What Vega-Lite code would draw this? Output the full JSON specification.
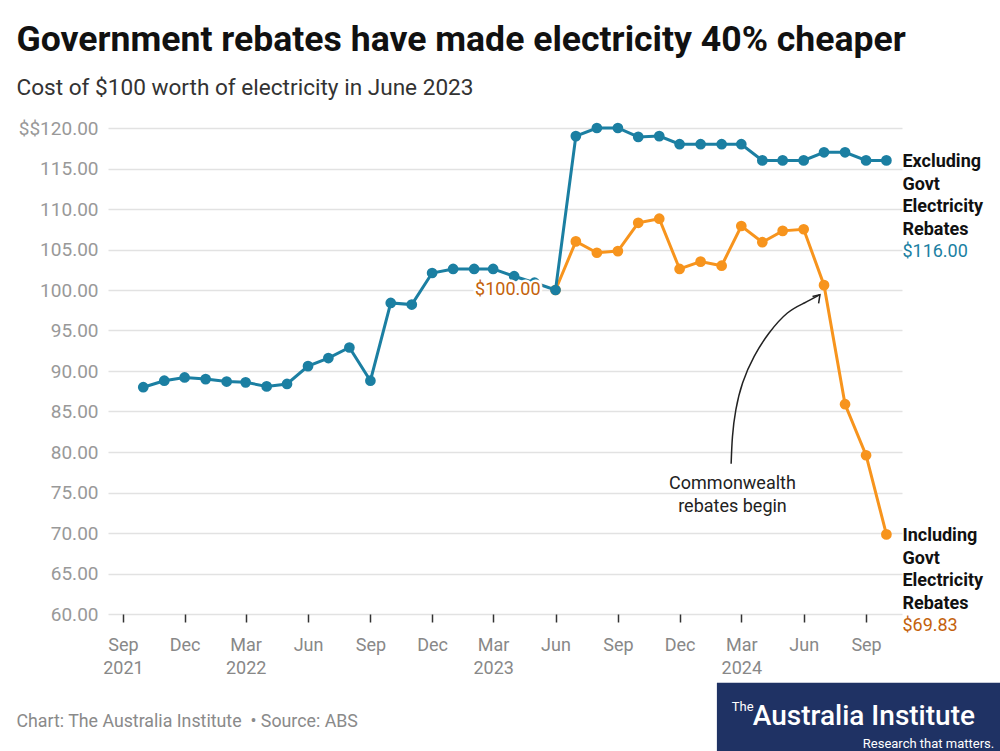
{
  "$schema": "https://vega.github.io/schema/vega-lite/v6.json",
  "autosize": "none",
  "width": 794,
  "height": 486,
  "padding": {"left": 108, "top": 128, "right": 98, "bottom": 137},
  "background": "white",
  "config": {
    "view": {"stroke": null},
    "font": "Roboto",
    "text": {"font": "Roboto"}
  },
  "title": {
    "text": "Government rebates have made electricity 40% cheaper",
    "subtitle": "Cost of $100 worth of electricity in June 2023",
    "anchor": "start",
    "frame": "bounds",
    "font": "Roboto",
    "fontSize": 35.6,
    "fontWeight": "bold",
    "color": "#111111",
    "subtitleFont": "Roboto",
    "subtitleFontSize": 22.6,
    "subtitleColor": "#333333",
    "subtitlePadding": 19,
    "offset": 19
  },
  "datasets": {
    "ex": [
      {"date": "2021-10-01", "value": 88.0},
      {"date": "2021-11-01", "value": 88.8},
      {"date": "2021-12-01", "value": 89.2},
      {"date": "2022-01-01", "value": 89.0},
      {"date": "2022-02-01", "value": 88.7},
      {"date": "2022-03-01", "value": 88.6},
      {"date": "2022-04-01", "value": 88.1},
      {"date": "2022-05-01", "value": 88.4},
      {"date": "2022-06-01", "value": 90.6},
      {"date": "2022-07-01", "value": 91.6},
      {"date": "2022-08-01", "value": 92.9},
      {"date": "2022-09-01", "value": 88.8},
      {"date": "2022-10-01", "value": 98.4},
      {"date": "2022-11-01", "value": 98.2},
      {"date": "2022-12-01", "value": 102.1},
      {"date": "2023-01-01", "value": 102.6},
      {"date": "2023-02-01", "value": 102.6},
      {"date": "2023-03-01", "value": 102.6},
      {"date": "2023-04-01", "value": 101.7},
      {"date": "2023-05-01", "value": 100.9},
      {"date": "2023-06-01", "value": 100.0},
      {"date": "2023-07-01", "value": 119.0},
      {"date": "2023-08-01", "value": 120.0},
      {"date": "2023-09-01", "value": 120.0},
      {"date": "2023-10-01", "value": 118.9},
      {"date": "2023-11-01", "value": 119.0},
      {"date": "2023-12-01", "value": 118.0},
      {"date": "2024-01-01", "value": 118.0},
      {"date": "2024-02-01", "value": 118.0},
      {"date": "2024-03-01", "value": 118.0},
      {"date": "2024-04-01", "value": 116.0},
      {"date": "2024-05-01", "value": 116.0},
      {"date": "2024-06-01", "value": 116.0},
      {"date": "2024-07-01", "value": 117.0},
      {"date": "2024-08-01", "value": 117.0},
      {"date": "2024-09-01", "value": 116.0},
      {"date": "2024-10-01", "value": 116.0}
    ],
    "inc": [
      {"date": "2023-06-01", "value": 100.0},
      {"date": "2023-07-01", "value": 106.0},
      {"date": "2023-08-01", "value": 104.6},
      {"date": "2023-09-01", "value": 104.8},
      {"date": "2023-10-01", "value": 108.3},
      {"date": "2023-11-01", "value": 108.8},
      {"date": "2023-12-01", "value": 102.6},
      {"date": "2024-01-01", "value": 103.5},
      {"date": "2024-02-01", "value": 103.0},
      {"date": "2024-03-01", "value": 107.9},
      {"date": "2024-04-01", "value": 105.9},
      {"date": "2024-05-01", "value": 107.3},
      {"date": "2024-06-01", "value": 107.5},
      {"date": "2024-07-01", "value": 100.6},
      {"date": "2024-08-01", "value": 85.9},
      {"date": "2024-09-01", "value": 79.6},
      {"date": "2024-10-01", "value": 69.83}
    ],
    "curve": [
      {"date": "2024-02-15", "value": 78.56},
      {"date": "2024-02-17", "value": 81.93},
      {"date": "2024-02-22", "value": 85.22},
      {"date": "2024-03-03", "value": 88.56},
      {"date": "2024-03-20", "value": 91.8},
      {"date": "2024-04-11", "value": 94.69},
      {"date": "2024-05-08", "value": 97.16},
      {"date": "2024-06-02", "value": 98.4},
      {"date": "2024-06-25", "value": 99.42}
    ],
    "head": [
      {"ord": 1, "date": "2024-06-14", "value": 99.21},
      {"ord": 2, "date": "2024-06-25", "value": 99.42},
      {"ord": 3, "date": "2024-06-23", "value": 98.36}
    ],
    "ends": [
      {"date": "2024-10-01", "value": 116.0, "label": "Excluding|Govt|Electricity|Rebates", "amount": "$116.00", "series": "ex"},
      {"date": "2024-10-01", "value": 69.83, "label": "Including|Govt|Electricity|Rebates", "amount": "$69.83", "series": "inc"}
    ],
    "base": [
      {"date": "2023-06-01", "value": 100.0, "label": "$100.00"}
    ],
    "note": [
      {"date": "2024-02-17", "value": 76.05, "label": "Commonwealth|rebates begin"}
    ]
  },
  "layer": [
    {
      "data": {"name": "inc"},
      "mark": {"type": "line", "color": "#f7941d", "strokeWidth": 3},
      "encoding": {
        "x": {
          "field": "date", "type": "temporal",
          "scale": {"type": "utc", "domain": [{"year": 2021, "month": 8, "date": 10, "utc": true}, {"year": 2024, "month": 10, "date": 24, "utc": true}]},
          "axis": {
            "title": null,
            "values": [
              {"year": 2021, "month": 9, "date": 1, "utc": true},
              {"year": 2021, "month": 12, "date": 1, "utc": true},
              {"year": 2022, "month": 3, "date": 1, "utc": true},
              {"year": 2022, "month": 6, "date": 1, "utc": true},
              {"year": 2022, "month": 9, "date": 1, "utc": true},
              {"year": 2022, "month": 12, "date": 1, "utc": true},
              {"year": 2023, "month": 3, "date": 1, "utc": true},
              {"year": 2023, "month": 6, "date": 1, "utc": true},
              {"year": 2023, "month": 9, "date": 1, "utc": true},
              {"year": 2023, "month": 12, "date": 1, "utc": true},
              {"year": 2024, "month": 3, "date": 1, "utc": true},
              {"year": 2024, "month": 6, "date": 1, "utc": true},
              {"year": 2024, "month": 9, "date": 1, "utc": true}
            ],
            "labelExpr": "[utcFormat(datum.value, '%b'), (utcmonth(datum.value) == 2 || (utcyear(datum.value) == 2021 && utcmonth(datum.value) == 8)) ? utcFormat(datum.value, '%Y') : '']",
            "domain": false,
            "grid": false,
            "ticks": true,
            "tickColor": "#333333",
            "tickWidth": 1.5,
            "tickSize": 8,
            "labelColor": "#888888",
            "labelFont": "Roboto",
            "labelFontSize": 18,
            "labelLineHeight": 23,
            "labelPadding": 14,
            "labelOverlap": false,
            "labelFlush": false
          }
        },
        "y": {
          "field": "value", "type": "quantitative",
          "scale": {"domain": [60, 120], "nice": false, "zero": false},
          "axis": {
            "title": null,
            "values": [60, 65, 70, 75, 80, 85, 90, 95, 100, 105, 110, 115, 120],
            "labelExpr": "datum.value == 120 ? '$$120.00' : format(datum.value, '.2f')",
            "domain": false,
            "ticks": false,
            "grid": true,
            "gridColor": "#e2e2e2",
            "gridWidth": 1.5,
            "labelColor": "#999999",
            "labelFont": "Roboto",
            "labelFontSize": 19,
            "labelPadding": 10
          }
        }
      }
    },
    {
      "data": {"name": "inc"},
      "mark": {"type": "point", "filled": true, "opacity": 1, "color": "#f7941d", "size": 115},
      "encoding": {
        "x": {"field": "date", "type": "temporal"},
        "y": {"field": "value", "type": "quantitative"}
      }
    },
    {
      "data": {"name": "ex"},
      "mark": {"type": "line", "color": "#1b7fa2", "strokeWidth": 3},
      "encoding": {
        "x": {"field": "date", "type": "temporal"},
        "y": {"field": "value", "type": "quantitative"}
      }
    },
    {
      "data": {"name": "ex"},
      "mark": {"type": "point", "filled": true, "opacity": 1, "color": "#1b7fa2", "size": 115},
      "encoding": {
        "x": {"field": "date", "type": "temporal"},
        "y": {"field": "value", "type": "quantitative"}
      }
    },
    {
      "data": {"name": "base"},
      "mark": {"type": "text", "align": "right", "baseline": "middle", "dx": -15, "fontSize": 18, "stroke": "white", "strokeWidth": 5, "fill": "white"},
      "encoding": {
        "x": {"field": "date", "type": "temporal"},
        "y": {"field": "value", "type": "quantitative"},
        "text": {"field": "label"}
      }
    },
    {
      "data": {"name": "base"},
      "mark": {"type": "text", "align": "right", "baseline": "middle", "dx": -15, "fontSize": 18, "color": "#c4620c"},
      "encoding": {
        "x": {"field": "date", "type": "temporal"},
        "y": {"field": "value", "type": "quantitative"},
        "text": {"field": "label"}
      }
    },
    {
      "data": {"name": "ends"},
      "mark": {"type": "text", "align": "left", "baseline": "middle", "dx": 16, "dy": 1.5, "fontSize": 18, "fontWeight": "bold", "color": "#111111", "lineBreak": "|", "lineHeight": 22.7},
      "encoding": {
        "x": {"field": "date", "type": "temporal"},
        "y": {"field": "value", "type": "quantitative"},
        "text": {"field": "label"}
      }
    },
    {
      "data": {"name": "ends"},
      "mark": {"type": "text", "align": "left", "baseline": "middle", "dx": 16, "dy": 92, "fontSize": 18},
      "encoding": {
        "x": {"field": "date", "type": "temporal"},
        "y": {"field": "value", "type": "quantitative"},
        "text": {"field": "amount"},
        "color": {"field": "series", "type": "nominal", "scale": {"domain": ["ex", "inc"], "range": ["#1b7fa2", "#c4620c"]}, "legend": null}
      }
    },
    {
      "data": {"name": "curve"},
      "mark": {"type": "line", "color": "#222222", "strokeWidth": 1.5, "interpolate": "natural"},
      "encoding": {
        "x": {"field": "date", "type": "temporal"},
        "y": {"field": "value", "type": "quantitative"}
      }
    },
    {
      "data": {"name": "head"},
      "mark": {"type": "line", "color": "#222222", "strokeWidth": 1.5},
      "encoding": {
        "x": {"field": "date", "type": "temporal"},
        "y": {"field": "value", "type": "quantitative"},
        "order": {"field": "ord", "type": "quantitative"}
      }
    },
    {
      "data": {"name": "note"},
      "mark": {"type": "text", "align": "center", "baseline": "middle", "fontSize": 18, "color": "#222222", "lineBreak": "|", "lineHeight": 23},
      "encoding": {
        "x": {"field": "date", "type": "temporal"},
        "y": {"field": "value", "type": "quantitative"},
        "text": {"field": "label"}
      }
    },
    {
      "data": {"values": [{"label": "Chart: The Australia Institute\u00a0 • Source: ABS"}]},
      "mark": {"type": "text", "align": "left", "baseline": "middle", "fontSize": 17.8, "color": "#8a8a8a"},
      "encoding": {
        "x": {"datum": {"year": 2021, "month": 3, "date": 28, "utc": true}, "type": "temporal"},
        "y": {"datum": 46.67, "type": "quantitative"},
        "text": {"field": "label"}
      }
    },
    {
      "data": {"values": [{"name": "logo"}]},
      "mark": {"type": "rect", "color": "#1f3264"},
      "encoding": {
        "x": {"datum": {"year": 2024, "month": 1, "date": 25, "utc": true}, "type": "temporal"},
        "x2": {"datum": {"year": 2025, "month": 3, "date": 25, "utc": true}},
        "y": {"datum": 51.52, "type": "quantitative"},
        "y2": {"datum": 42}
      }
    },
    {
      "data": {"values": [{"label": "The"}]},
      "mark": {"type": "text", "align": "left", "baseline": "middle", "fontSize": 13, "color": "white", "font": "Roboto"},
      "encoding": {
        "x": {"datum": {"year": 2024, "month": 2, "date": 16, "utc": true}, "type": "temporal"},
        "y": {"datum": 48.56, "type": "quantitative"},
        "text": {"field": "label"}
      }
    },
    {
      "data": {"values": [{"label": "Australia Institute"}]},
      "mark": {"type": "text", "align": "left", "baseline": "alphabetic", "fontSize": 28, "fontWeight": 500, "color": "white", "font": "Roboto"},
      "encoding": {
        "x": {"datum": {"year": 2024, "month": 3, "date": 18, "utc": true}, "type": "temporal"},
        "y": {"datum": 46.33, "type": "quantitative"},
        "text": {"field": "label"}
      }
    },
    {
      "data": {"values": [{"label": "Research that matters."}]},
      "mark": {"type": "text", "align": "right", "baseline": "alphabetic", "fontSize": 13, "color": "white", "font": "Roboto"},
      "encoding": {
        "x": {"datum": {"year": 2025, "month": 3, "date": 9, "utc": true}, "type": "temporal"},
        "y": {"datum": 43.49, "type": "quantitative"},
        "text": {"field": "label"}
      }
    }
  ]
}
